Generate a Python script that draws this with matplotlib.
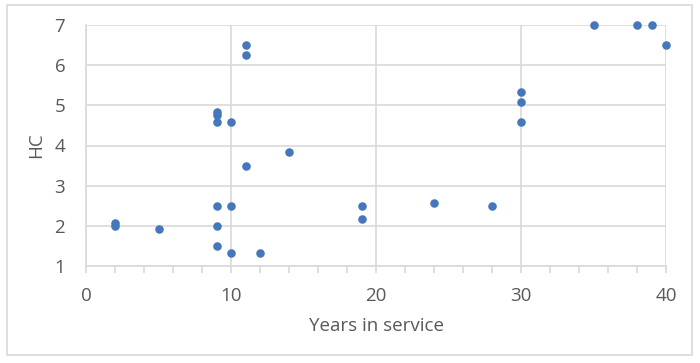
import matplotlib
matplotlib.use('Agg')
import matplotlib.pyplot as plt
from matplotlib.patches import Rectangle
from matplotlib.ticker import MultipleLocator

# data
years = [2, 2, 5, 9, 9, 9, 10, 10, 12,
         9, 9, 9, 10, 11, 11, 11, 14,
         19, 19, 24, 28, 30, 30, 30,
         35, 38, 39, 40]
hc = [2.08, 2.0, 1.92, 2.5, 2.0, 1.5, 2.5, 1.33, 1.33,
      4.83, 4.75, 4.58, 4.58, 6.5, 6.25, 3.5, 3.83,
      2.5, 2.17, 2.58, 2.5, 5.33, 5.08, 4.58,
      7.0, 7.0, 7.0, 6.5]

plt.rcParams['font.family'] = ['Open Sans', 'DejaVu Sans']
text_col = '#595959'
grid_col = '#D9D9D9'

fig = plt.figure(figsize=(7, 3.63), dpi=100)
ax = fig.add_axes([86/700, 97/363, 580/700, 241/363])

# outer chart border
fig.patches.append(Rectangle((7/700, 8/363), 685/700, 350/363, transform=fig.transFigure,
                             fill=False, edgecolor=grid_col, linewidth=1.2))

ax.scatter(years, hc, s=38, color='#4677BA', zorder=3, clip_on=False, linewidths=0)

ax.set_xlim(0, 40)
ax.set_ylim(1, 7)
ax.xaxis.set_major_locator(MultipleLocator(10))
ax.xaxis.set_minor_locator(MultipleLocator(2))
ax.yaxis.set_major_locator(MultipleLocator(1))

ax.grid(True, which='major', color=grid_col, linewidth=1.2, zorder=0)
ax.set_axisbelow(True)
for side in ['top', 'right']:
    ax.spines[side].set_visible(False)
for side in ['left', 'bottom']:
    ax.spines[side].set_color(grid_col)
    ax.spines[side].set_linewidth(1.2)

ax.tick_params(axis='x', which='both', direction='out', color=grid_col, width=1.2,
               labelsize=13.5, labelcolor=text_col, pad=10)
ax.tick_params(axis='x', which='major', length=5)
ax.tick_params(axis='x', which='minor', length=5)
ax.tick_params(axis='y', length=0, labelsize=13.5, labelcolor=text_col, pad=15)

ax.set_xlabel('Years in service', fontsize=13.5, color=text_col, labelpad=9)
ax.set_ylabel('HC', fontsize=13.5, color=text_col, labelpad=7)

fig.savefig('out.png', dpi=100)
